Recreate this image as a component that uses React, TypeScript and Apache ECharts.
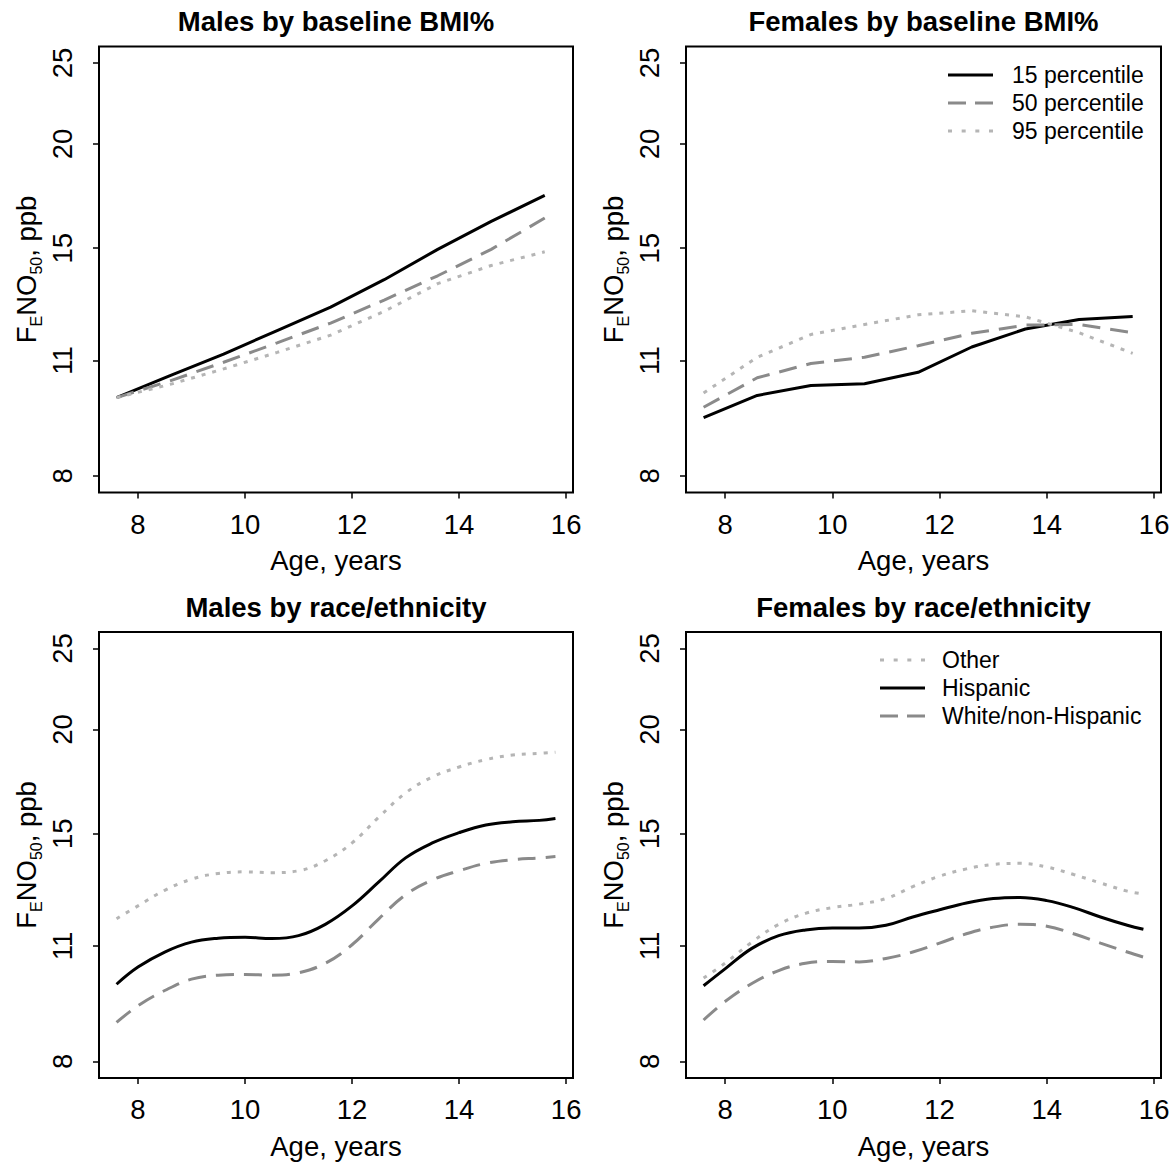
import React, { useEffect, useRef } from 'react';
import * as echarts from 'echarts';

const FONT = '"Liberation Sans", Arial, Helvetica, sans-serif';

// Ages (x) and FENO50 values (ppb)
const bmiAges = [7.6, 8.6, 9.6, 10.6, 11.6, 12.6, 13.6, 14.6, 15.6];
const maleBmi15 = [9.93, 10.55, 11.2, 11.95, 12.75, 13.75, 14.95, 16.15, 17.35];
const maleBmi50 = [9.93, 10.4, 10.95, 11.55, 12.2, 13.0, 13.9, 14.95, 16.3];
const maleBmi95 = [9.93, 10.3, 10.75, 11.25, 11.8, 12.6, 13.6, 14.3, 14.85];
const femaleBmi15 = [9.4, 9.99, 10.27, 10.32, 10.65, 11.42, 12.0, 12.32, 12.42];
const femaleBmi50 = [9.67, 10.49, 10.91, 11.1, 11.46, 11.86, 12.13, 12.15, 11.88];
const femaleBmi95 = [10.06, 11.1, 11.82, 12.15, 12.48, 12.62, 12.41, 11.88, 11.22];

const raceAges = [7.6, 8, 8.5, 9, 9.5, 10, 10.5, 11, 11.5, 12, 12.5, 13, 13.5, 14, 14.5, 15, 15.5, 15.8];
const maleOther = [11.86, 12.29, 12.83, 13.23, 13.44, 13.5, 13.47, 13.54, 13.92, 14.62, 15.7, 16.78, 17.54, 18.03, 18.4, 18.63, 18.72, 18.78];
const maleHispanic = [9.9, 10.38, 10.82, 11.12, 11.24, 11.27, 11.23, 11.32, 11.68, 12.29, 13.13, 14.03, 14.62, 15.04, 15.36, 15.5, 15.56, 15.64];
const maleWhite = [8.91, 9.33, 9.73, 10.04, 10.15, 10.17, 10.15, 10.22, 10.49, 11.04, 11.86, 12.67, 13.2, 13.54, 13.82, 13.96, 14.03, 14.08];
const femaleOther = [10.07, 10.49, 11.12, 11.68, 12.04, 12.23, 12.35, 12.54, 12.96, 13.34, 13.61, 13.78, 13.82, 13.68, 13.4, 13.09, 12.8, 12.7];
const femaleHispanic = [9.86, 10.33, 10.93, 11.32, 11.5, 11.56, 11.56, 11.65, 11.92, 12.16, 12.39, 12.54, 12.58, 12.47, 12.23, 11.92, 11.65, 11.52];
const femaleWhite = [8.97, 9.44, 9.92, 10.28, 10.49, 10.54, 10.53, 10.63, 10.82, 11.09, 11.38, 11.59, 11.68, 11.62, 11.38, 11.09, 10.82, 10.67];

const xTicks = [8, 10, 12, 14, 16];
const yTicks = [8, 11, 15, 20, 25];
const panelTitles = [
  'Males by baseline BMI%',
  'Females by baseline BMI%',
  'Males by race/ethnicity',
  'Females by race/ethnicity',
];
const bmiNames = ['15 percentile', '50 percentile', '95 percentile'];
const raceNames = ['Other', 'Hispanic', 'White/non-Hispanic'];

const LINE = {
  solid: { color: '#000000', width: 3, type: 'solid' as any },
  dashed: { color: '#8a8a8a', width: 3, type: [18, 10] as any },
  dotted: { color: '#b5b5b5', width: 3, type: [4, 7] as any },
};

const ICON = {
  solid: 'path://M0,0h45v3h-45z',
  dashed: 'path://M0,0h18v3h-18zM27,0h18v3h-18z',
  dotted: 'path://M0,0h4v3h-4zM13.67,0h4v3h-4zM27.33,0h4v3h-4zM41,0h4v3h-4z',
};

export default function App() {
  const ref = useRef<HTMLDivElement>(null);

  useEffect(() => {
    document.body.style.margin = '0';
    if (!ref.current) return;
    const chart = echarts.init(ref.current, undefined, { renderer: 'svg' });

    const grids = [
      { left: 99, top: 46.5, width: 474, height: 446 },
      { left: 686, top: 46.5, width: 475, height: 446 },
      { left: 99, top: 632, width: 474, height: 446 },
      { left: 686, top: 632, width: 475, height: 446 },
    ];

    const yPad = (Math.log(25) - Math.log(8)) * 0.04;
    const xPad = (15.8 - 7.6) * 0.04;
    const AX_FONT = 27.5;

    const xAxes = grids.map((_, i) => ({
      type: 'value',
      gridIndex: i,
      min: 7.6 - xPad,
      max: 15.8 + xPad,
      axisLine: { show: false },
      splitLine: { show: false },
      axisTick: {
        show: true,
        inside: false,
        length: 6,
        customValues: xTicks,
        lineStyle: { color: '#000', width: 1.5 },
      },
      axisLabel: {
        customValues: xTicks,
        margin: 17.5,
        fontSize: AX_FONT,
        fontFamily: FONT,
        color: '#000',
      },
      name: 'Age, years',
      nameLocation: 'middle',
      nameGap: 54,
      nameTextStyle: { fontSize: AX_FONT, fontFamily: FONT, color: '#000' },
    }));

    const yAxes = grids.map((_, i) => ({
      type: 'value',
      gridIndex: i,
      min: Math.log(8) - yPad,
      max: Math.log(25) + yPad,
      axisLine: { show: false },
      splitLine: { show: false },
      axisTick: {
        show: true,
        inside: false,
        length: 6,
        customValues: yTicks.map((v) => Math.log(v)),
        lineStyle: { color: '#000', width: 1.5 },
      },
      axisLabel: {
        customValues: yTicks.map((v) => Math.log(v)),
        rotate: 90,
        margin: 23,
        fontSize: AX_FONT,
        fontFamily: FONT,
        color: '#000',
        formatter: (v: number) => String(Math.round(Math.exp(v))),
      },
      name: '{m|F}{s|E}{m|NO}{s|50}{m|, ppb}',
      nameLocation: 'middle',
      nameRotate: 90,
      nameGap: 55,
      nameTextStyle: {
        rich: {
          m: { fontSize: AX_FONT, fontFamily: FONT, color: '#000', lineHeight: 36 },
          s: { fontSize: 16, fontFamily: FONT, color: '#000', lineHeight: 36, verticalAlign: 'bottom' },
        },
      },
    }));

    const mk = (name: string, idx: number, xs: number[], ys: number[], st: any, smooth: number | boolean) => ({
      type: 'line',
      name,
      xAxisIndex: idx,
      yAxisIndex: idx,
      data: xs.map((x, k) => [x, Math.log(ys[k])]),
      symbol: 'none',
      showSymbol: false,
      smooth,
      color: st.color,
      lineStyle: { color: st.color, width: st.width, type: st.type, cap: 'butt' },
      itemStyle: { color: st.color },
      emphasis: { disabled: true },
      silent: true,
    });

    const series = [
      mk(bmiNames[0], 0, bmiAges, maleBmi15, LINE.solid, false),
      mk(bmiNames[1], 0, bmiAges, maleBmi50, LINE.dashed, false),
      mk(bmiNames[2], 0, bmiAges, maleBmi95, LINE.dotted, false),
      mk(bmiNames[0], 1, bmiAges, femaleBmi15, LINE.solid, false),
      mk(bmiNames[1], 1, bmiAges, femaleBmi50, LINE.dashed, false),
      mk(bmiNames[2], 1, bmiAges, femaleBmi95, LINE.dotted, false),
      mk(raceNames[0], 2, raceAges, maleOther, LINE.dotted, 0.4),
      mk(raceNames[1], 2, raceAges, maleHispanic, LINE.solid, 0.4),
      mk(raceNames[2], 2, raceAges, maleWhite, LINE.dashed, 0.4),
      mk(raceNames[0], 3, raceAges, femaleOther, LINE.dotted, 0.4),
      mk(raceNames[1], 3, raceAges, femaleHispanic, LINE.solid, 0.4),
      mk(raceNames[2], 3, raceAges, femaleWhite, LINE.dashed, 0.4),
    ];

    const titleCenters = [
      [336, 7],
      [923.5, 7],
      [336, 593],
      [923.5, 593],
    ];

    const legendText = { fontSize: 23, fontFamily: FONT, color: '#000', lineHeight: 28 };

    chart.setOption({
      animation: false,
      backgroundColor: '#ffffff',
      title: panelTitles.map((t, i) => ({
        text: t,
        left: titleCenters[i][0],
        top: titleCenters[i][1],
        textAlign: 'center',
        padding: 0,
        textStyle: { fontSize: 27.5, fontWeight: 'bold', fontFamily: FONT, color: '#000' },
      })),
      legend: [
        {
          data: [
            { name: bmiNames[0], icon: ICON.solid },
            { name: bmiNames[1], icon: ICON.dashed },
            { name: bmiNames[2], icon: ICON.dotted },
          ],
          orient: 'vertical',
          left: 948,
          top: 61,
          padding: 0,
          itemGap: 0,
          itemWidth: 45,
          itemHeight: 3,
          selectedMode: false,
          textStyle: { ...legendText, padding: [0, 0, 0, 14] },
        },
        {
          data: [
            { name: raceNames[0], icon: ICON.dotted },
            { name: raceNames[1], icon: ICON.solid },
            { name: raceNames[2], icon: ICON.dashed },
          ],
          orient: 'vertical',
          left: 880,
          top: 646,
          padding: 0,
          itemGap: 0,
          itemWidth: 45,
          itemHeight: 3,
          selectedMode: false,
          textStyle: { ...legendText, padding: [0, 0, 0, 12] },
        },
      ],
      grid: grids.map((g) => ({
        ...g,
        show: true,
        borderColor: '#000',
        borderWidth: 2,
        backgroundColor: 'transparent',
        containLabel: false,
        outerBoundsMode: 'none',
      })),
      xAxis: xAxes,
      yAxis: yAxes,
      series,
    });

    return () => chart.dispose();
  }, []);

  return <div ref={ref} style={{ width: 1172, height: 1164, background: '#fff' }} />;
}
